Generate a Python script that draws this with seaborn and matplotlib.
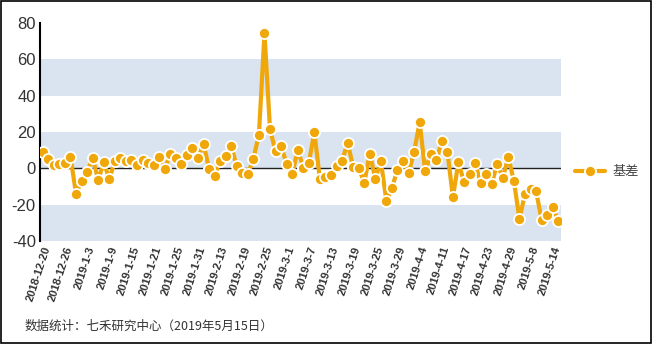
import matplotlib
matplotlib.use("Agg")
import matplotlib.pyplot as plt
import seaborn as sns
import pandas as pd
from matplotlib.patches import Rectangle

dates = [
    "2018-12-20", "2018-12-21", "2018-12-24", "2018-12-25", "2018-12-26", "2018-12-27", "2018-12-28",
    "2019-1-2", "2019-1-3", "2019-1-4", "2019-1-7", "2019-1-8", "2019-1-9", "2019-1-10", "2019-1-11",
    "2019-1-14", "2019-1-15", "2019-1-16", "2019-1-17", "2019-1-18", "2019-1-21", "2019-1-22",
    "2019-1-23", "2019-1-24", "2019-1-25", "2019-1-28", "2019-1-29", "2019-1-30", "2019-1-31",
    "2019-2-1", "2019-2-11", "2019-2-12", "2019-2-13", "2019-2-14", "2019-2-15", "2019-2-18",
    "2019-2-19", "2019-2-20", "2019-2-21", "2019-2-22", "2019-2-25", "2019-2-26", "2019-2-27",
    "2019-2-28", "2019-3-1", "2019-3-4", "2019-3-5", "2019-3-6", "2019-3-7", "2019-3-8",
    "2019-3-11", "2019-3-12", "2019-3-13", "2019-3-14", "2019-3-15", "2019-3-18", "2019-3-19",
    "2019-3-20", "2019-3-21", "2019-3-22", "2019-3-25", "2019-3-26", "2019-3-27", "2019-3-28",
    "2019-3-29", "2019-4-1", "2019-4-2", "2019-4-3", "2019-4-4", "2019-4-8", "2019-4-9",
    "2019-4-10", "2019-4-11", "2019-4-12", "2019-4-15", "2019-4-16", "2019-4-17", "2019-4-18",
    "2019-4-19", "2019-4-22", "2019-4-23", "2019-4-24", "2019-4-25", "2019-4-26", "2019-4-29",
    "2019-4-30", "2019-5-6", "2019-5-7", "2019-5-8", "2019-5-9", "2019-5-10", "2019-5-13",
    "2019-5-14", "2019-5-15",
]

basis = [
    9.0, 5.3, 1.7, 2.2, 3.1, 6.2, -14.0, -7.2, -2.0, 5.9, -6.6, 3.5, -6.0, 4.0, 5.9,
    4.0, 4.4, 2.0, 4.4, 3.1, 2.0, 6.2, -0.2, 7.7, 5.7, 2.6, 7.2, 11.2, 5.7,
    13.6, -0.2, -4.2, 4.2, 6.8, 12.3, 1.1, -2.4, -3.3, 5.3, 18.6, 74.3, 21.5, 9.4,
    12.1, 2.6, -3.3, 10.3, 0.4, 2.9, 20.0, -6.0, -4.8, -3.5, 1.1, 4.0, 14.2, 0.7,
    0.4, -8.1, 8.1, -5.7, 3.9, -18.0, -10.8, -0.7, 3.9, -2.6, 9.0, 25.5, -1.7, 8.1,
    4.4, 14.9, 9.0, -15.8, 3.5, -7.6, -2.9, 3.1, -8.3, -3.2, -8.5, 2.6, -5.3, 6.2,
    -7.0, -27.8, -14.3, -11.2, -12.5, -28.3, -25.9, -21.3, -29.0,
]

series_name = "基差"
yticks = [-40, -20, 0, 20, 40, 60, 80]
footer = "数据统计：七禾研究中心（2019年5月15日）"

orange = "#f0a70a"
band = "#d9e4f0"

sns.set_theme(style="white")
plt.rcParams["font.family"] = ["Liberation Sans", "Noto Sans CJK SC", "DejaVu Sans"]

df = pd.DataFrame({"idx": list(range(len(basis))), "val": basis, "s": series_name})

fig = plt.figure(figsize=(6.52, 3.44), dpi=100)
ax = fig.add_axes([40 / 652, 1 - 241 / 344, (561 - 40) / 652, (241 - 23) / 344])

for lo in (-40, 0, 40):
    ax.axhspan(lo, lo + 20, color=band, lw=0, zorder=0)
ax.axhline(0, color="#222222", lw=1.0, zorder=1)

sns.lineplot(data=df, x="idx", y="val", hue="s", palette=[orange], ax=ax,
             lw=3.0, marker="o", markersize=8, markeredgecolor="white",
             markeredgewidth=1.3, zorder=3)

ax.set_xlim(-0.5, len(basis) - 0.5)
ax.set_ylim(-40, 80)
ax.set_yticks(yticks)
ax.set_yticklabels([str(v) for v in yticks], fontsize=12, color="#333333")
tick_pos = list(range(0, len(dates), 4))
ax.set_xticks(tick_pos)
ax.set_xticklabels([dates[i] for i in tick_pos], rotation=72, ha="right",
                   rotation_mode="anchor", fontsize=8, fontweight="bold", color="#333333")
ax.tick_params(axis="both", length=0, pad=3)
ax.set_xlabel("")
ax.set_ylabel("")
for s in ("top", "right", "bottom"):
    ax.spines[s].set_visible(False)
ax.spines["left"].set_color("black")
ax.spines["left"].set_linewidth(1.5)

leg = ax.legend(loc="center left", bbox_to_anchor=(1.005, 0.317), frameon=False,
                handlelength=2.2, handletextpad=0.6, fontsize=9.5)
for t in leg.get_texts():
    t.set_color("#444444")
    t.set_fontfamily(["Noto Sans CJK SC", "DejaVu Sans"])

fig.text(25 / 652, 1 - 326 / 344, footer, fontsize=9, color="#333333",
         va="center", ha="left", family=["Noto Sans CJK SC", "DejaVu Sans"])

fig.patches.append(Rectangle((0.001, 0.002), 0.997, 0.995, transform=fig.transFigure,
                             fill=False, edgecolor="black", lw=1.2))

fig.savefig("out.png", dpi=100)
